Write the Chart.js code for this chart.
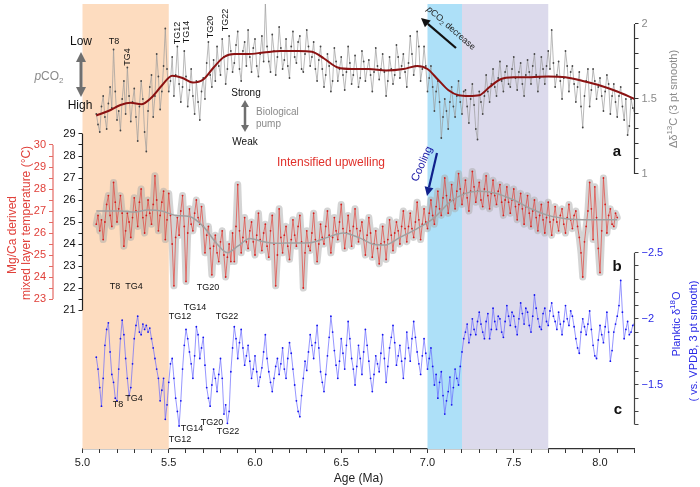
<!DOCTYPE html>
<html>
<head>
<meta charset="utf-8">
<script src="https://cdn.jsdelivr.net/npm/chart.js@4.4.1/dist/chart.umd.min.js"></script>
<style>
html, body { margin: 0; padding: 0; background: #fff; }
canvas { display: block; }
</style>
</head>
<body>
<canvas id="chart" width="700" height="487"></canvas>
<script>
// sample ages (Ma), shared by the three records
const ages = [
  5.08,5.09,5.10,5.11,5.12,5.13,5.14,5.15,5.16,5.17,
  5.18,5.19,5.20,5.21,5.22,5.23,5.24,5.25,5.26,5.27,
  5.28,5.29,5.30,5.31,5.32,5.33,5.34,5.35,5.36,5.37,
  5.38,5.39,5.40,5.41,5.42,5.43,5.44,5.45,5.46,5.47,
  5.48,5.49,5.50,5.51,5.52,5.53,5.54,5.55,5.56,5.57,
  5.58,5.59,5.60,5.61,5.62,5.63,5.64,5.65,5.66,5.67,
  5.68,5.69,5.70,5.71,5.72,5.73,5.74,5.75,5.76,5.77,
  5.78,5.79,5.80,5.81,5.82,5.83,5.84,5.85,5.86,5.87,
  5.88,5.89,5.90,5.91,5.92,5.93,5.94,5.95,5.96,5.97,
  5.98,5.99,6.00,6.01,6.02,6.03,6.04,6.05,6.06,6.07,
  6.08,6.09,6.10,6.11,6.12,6.13,6.14,6.15,6.16,6.17,
  6.18,6.19,6.20,6.21,6.22,6.23,6.24,6.25,6.26,6.27,
  6.28,6.29,6.30,6.31,6.32,6.33,6.34,6.35,6.36,6.37,
  6.38,6.39,6.40,6.41,6.42,6.43,6.44,6.45,6.46,6.47,
  6.48,6.49,6.50,6.51,6.52,6.53,6.54,6.55,6.56,6.57,
  6.58,6.59,6.60,6.61,6.62,6.63,6.64,6.65,6.66,6.67,
  6.68,6.69,6.70,6.71,6.72,6.73,6.74,6.75,6.76,6.77,
  6.78,6.79,6.80,6.81,6.82,6.83,6.84,6.85,6.86,6.87,
  6.88,6.89,6.90,6.91,6.92,6.93,6.94,6.95,6.96,6.97,
  6.98,6.99,7.00,7.01,7.02,7.03,7.04,7.05,7.06,7.07,
  7.08,7.09,7.10,7.11,7.12,7.13,7.14,7.15,7.16,7.17,
  7.18,7.19,7.20,7.21,7.22,7.23,7.24,7.25,7.26,7.27,
  7.28,7.29,7.30,7.31,7.32,7.33,7.34,7.35,7.36,7.37,
  7.38,7.39,7.40,7.41,7.42,7.43,7.44,7.45,7.46,7.47,
  7.48,7.49,7.50,7.51,7.52,7.53,7.54,7.55,7.56,7.57,
  7.58,7.59,7.60,7.61,7.62,7.63,7.64,7.65,7.66,7.67,
  7.68,7.69,7.70,7.71,7.72,7.73,7.74,7.75,7.76,7.77,
  7.78,7.79,7.80,7.81,7.82,7.83,7.84,7.85,7.86,7.87,
  7.88,7.89,7.90,7.91,7.92,7.93,7.94,7.95,7.96,7.97,
  7.98,7.99,8.00,8.01,8.02,8.03,8.04,8.05,8.06,8.07,
  8.08,8.09,8.10,8.11,8.12,8.13,8.14,8.15,8.16,8.17,
  8.18,8.19,8.20
];

// panel a: delta-delta13C (3 pt smooth)
const d13c = [
  1.40,1.33,1.28,1.45,1.52,1.38,1.30,1.47,1.58,1.44,
  1.83,1.55,1.36,1.42,1.29,1.50,1.62,1.40,1.71,1.52,
  1.35,1.48,1.57,1.38,1.22,1.45,1.62,1.50,1.28,1.15,
  1.42,1.58,1.66,1.38,1.52,1.80,1.65,1.43,1.55,1.72,
  1.97,1.70,1.55,1.62,1.78,1.52,1.66,1.85,1.60,1.48,
  1.58,1.82,1.65,1.45,1.56,1.70,1.52,1.40,1.62,1.48,
  1.36,1.55,1.64,1.50,1.74,1.88,1.66,1.58,1.76,1.62,
  1.85,1.72,1.66,1.90,1.78,1.60,1.70,1.92,1.82,1.68,
  1.74,1.86,1.95,1.70,1.62,1.82,1.88,1.72,1.96,1.78,
  1.68,1.84,1.90,1.72,1.65,1.80,1.92,1.75,2.14,1.85,
  1.75,1.68,1.93,1.82,1.66,1.78,1.98,1.84,1.70,1.76,
  1.90,1.72,1.64,1.85,1.95,1.78,1.74,1.88,1.92,1.70,
  1.68,1.80,1.96,1.85,1.72,1.78,1.88,1.70,1.62,1.76,
  1.85,1.70,1.58,1.66,1.80,1.72,1.55,1.62,1.84,1.75,
  1.62,1.70,1.78,1.66,1.56,1.68,1.85,1.74,1.60,1.66,
  1.79,1.70,1.58,1.64,1.82,1.75,1.62,1.70,1.76,1.66,
  1.55,1.68,1.84,1.72,1.63,1.70,1.80,1.68,1.52,1.62,
  1.78,1.70,1.60,1.66,1.86,1.78,1.64,1.72,1.80,1.68,
  1.58,1.74,1.92,1.80,1.66,1.72,1.95,1.85,1.62,1.70,
  1.85,1.72,1.55,1.64,1.72,1.58,1.42,1.55,1.62,1.48,
  1.24,1.38,1.50,1.42,1.30,1.48,1.58,1.45,1.38,1.52,
  1.62,1.48,1.40,1.55,1.56,1.45,1.34,1.50,1.60,1.46,
  1.30,1.23,1.55,1.48,1.40,1.52,1.66,1.55,1.48,1.60,
  1.70,1.58,1.52,1.64,1.75,1.62,1.55,1.68,1.72,1.60,
  1.58,1.70,1.78,1.64,1.56,1.68,1.74,1.60,1.52,1.66,
  1.76,1.68,1.60,1.72,1.80,1.66,1.55,1.64,1.78,1.70,
  1.60,1.72,1.82,1.70,1.96,1.74,1.58,1.66,1.75,1.62,
  1.50,1.64,1.82,1.72,1.55,1.68,1.72,1.60,1.48,1.58,
  1.68,1.45,1.31,1.52,1.62,1.70,1.45,1.56,1.70,1.62,
  1.50,1.58,1.64,1.52,1.42,1.55,1.66,1.60,1.40,1.52,
  1.60,1.48,1.38,1.52,1.58,1.45,1.36,1.50,1.26,1.32,
  1.50,1.44,1.42
];
const d13cSmoothAge = [5.08,5.15,5.22,5.28,5.34,5.40,5.46,5.52,5.58,5.64,5.70,5.76,5.82,5.88,5.96,6.05,6.15,6.25,6.33,6.40,6.48,6.56,6.66,6.76,6.86,6.94,7.00,7.06,7.12,7.18,7.24,7.30,7.36,7.42,7.50,7.60,7.70,7.80,7.90,8.00,8.10,8.20];
const d13cSmooth = [1.39,1.42,1.46,1.475,1.465,1.51,1.59,1.655,1.64,1.61,1.63,1.71,1.78,1.80,1.80,1.81,1.82,1.82,1.815,1.77,1.71,1.70,1.70,1.69,1.70,1.72,1.70,1.63,1.56,1.525,1.52,1.525,1.58,1.63,1.645,1.645,1.65,1.645,1.62,1.59,1.55,1.50];

// panel b: Mg/Ca temperature (deg C), ends at 8.10 Ma
const temp = [
  24.9,25.3,24.6,25.1,24.2,25.0,25.8,26.2,25.3,24.8,
  26.8,25.9,25.0,25.6,26.2,25.4,23.9,24.6,25.4,25.0,
  24.3,25.2,26.1,25.5,24.8,25.9,26.5,25.2,24.5,25.3,
  26.0,25.4,24.9,25.8,27.1,26.0,24.6,25.3,25.9,26.4,
  24.2,25.1,26.3,25.3,24.0,22.1,24.3,25.2,24.4,25.5,
  26.2,24.8,22.3,24.5,25.6,24.9,24.6,25.4,26.0,25.2,
  24.9,25.7,24.8,23.6,24.4,24.8,23.8,22.6,23.9,24.4,
  23.6,23.2,24.1,24.6,23.5,22.5,23.4,24.0,23.2,24.5,
  23.2,24.8,26.7,24.6,23.6,24.3,25.2,24.1,23.8,24.6,
  25.0,24.1,23.5,24.4,25.4,24.2,23.7,24.5,24.9,23.9,
  23.4,24.6,25.3,24.0,22.1,23.5,25.6,24.3,23.6,24.4,
  24.8,23.9,23.3,24.2,25.1,24.4,23.9,24.8,25.3,24.1,
  22.0,23.6,24.6,23.9,23.7,24.5,25.4,24.2,23.2,24.0,
  24.9,24.3,24.0,24.8,25.5,24.4,23.6,24.3,25.2,24.6,
  24.2,25.0,25.8,24.7,23.8,24.5,25.3,24.6,23.9,24.8,
  25.6,24.7,24.1,24.6,25.0,24.2,23.5,24.4,25.2,24.5,
  23.4,24.0,24.6,23.8,23.1,24.0,24.8,24.1,23.3,24.2,
  25.1,24.4,23.7,24.5,25.0,24.6,24.0,24.8,25.5,24.7,
  24.1,24.8,25.4,24.7,24.3,25.0,25.9,25.1,24.2,24.9,
  25.6,25.0,24.7,25.4,26.0,25.3,24.9,25.7,26.4,25.6,
  25.3,26.1,27.0,26.2,25.4,26.0,26.7,26.0,25.6,26.4,
  27.2,26.5,25.8,26.3,26.9,26.1,25.5,26.4,27.3,26.6,
  25.9,26.4,26.8,26.0,25.7,26.5,27.1,26.2,25.6,26.3,
  26.9,26.2,25.8,26.4,26.7,25.9,25.3,26.0,26.6,25.9,
  25.4,26.0,26.5,25.7,25.1,25.8,26.3,25.6,24.9,25.7,
  26.2,25.4,24.8,25.5,26.0,25.2,24.6,25.3,25.8,25.1,
  24.5,25.2,25.9,25.0,24.4,25.1,25.7,25.0,24.6,25.3,
  25.6,24.9,24.5,25.2,25.8,25.1,24.7,25.3,25.5,24.8,
  24.3,23.6,22.5,24.1,24.8,25.5,26.8,25.6,24.2,26.6,
  25.2,23.8,22.7,24.6,27.0,25.8,24.5,25.3,25.6,24.9,
  24.8,25.4,25.2
];
const tempSmoothAge = [5.08,5.15,5.22,5.30,5.38,5.46,5.54,5.62,5.70,5.78,5.84,5.90,5.97,6.05,6.13,6.22,6.32,6.42,6.51,6.60,6.68,6.75,6.84,6.94,7.04,7.13,7.22,7.30,7.40,7.50,7.60,7.70,7.80,7.90,8.00,8.10];
const tempSmooth = [25.5,25.5,25.5,25.45,25.55,25.5,25.3,25.25,24.8,24.0,23.6,23.9,24.25,24.1,24.03,24.05,24.06,24.3,24.5,24.3,24.0,23.95,24.3,24.7,25.2,25.9,26.3,26.4,26.3,26.0,25.6,25.3,25.15,25.1,25.1,25.1];

// panel c: planktic d18O (3 pt smooth)
const d18o = [
  -1.71,-1.62,-1.48,-1.34,-1.55,-1.80,-1.92,-1.97,-1.75,-1.58,
  -1.52,-1.40,-1.38,-1.62,-1.85,-1.99,-1.88,-1.70,-1.55,-1.42,
  -1.48,-1.66,-1.85,-1.95,-2.02,-1.90,-1.88,-1.96,-1.92,-1.95,
  -1.90,-1.93,-1.85,-1.78,-1.70,-1.62,-1.55,-1.38,-1.46,-1.55,
  -1.24,-1.35,-1.52,-1.66,-1.70,-1.55,-1.40,-1.30,-1.19,-1.38,
  -1.62,-1.80,-1.92,-1.85,-1.75,-1.66,-1.55,-1.72,-1.94,-1.88,
  -1.70,-1.78,-1.86,-1.65,-1.48,-1.40,-1.34,-1.50,-1.62,-1.55,
  -1.45,-1.58,-1.70,-1.55,-1.28,-1.35,-1.21,-1.30,-1.60,-1.78,
  -1.94,-1.85,-1.70,-1.82,-1.92,-1.78,-1.65,-1.72,-1.80,-1.68,
  -1.55,-1.62,-1.72,-1.60,-1.49,-1.56,-1.63,-1.75,-1.88,-1.70,
  -1.60,-1.52,-1.45,-1.55,-1.64,-1.70,-1.58,-1.66,-1.78,-1.62,
  -1.55,-1.70,-1.82,-1.74,-1.62,-1.50,-1.38,-1.30,-1.26,-1.42,
  -1.55,-1.68,-1.61,-1.75,-1.88,-1.80,-1.70,-1.82,-1.95,-1.78,
  -1.60,-1.52,-1.45,-1.58,-1.72,-1.86,-2.02,-1.90,-1.76,-1.65,
  -1.55,-1.68,-1.85,-1.74,-1.62,-1.80,-1.98,-1.85,-1.70,-1.62,
  -1.50,-1.64,-1.80,-1.70,-1.58,-1.75,-1.92,-1.80,-1.68,-1.55,
  -1.45,-1.58,-1.72,-1.66,-1.60,-1.74,-1.88,-1.70,-1.52,-1.64,
  -1.78,-1.86,-1.95,-1.82,-1.65,-1.72,-1.80,-1.68,-1.55,-1.70,
  -1.90,-1.78,-1.68,-1.85,-1.98,-1.86,-1.75,-1.66,-1.58,-1.72,
  -1.85,-1.74,-1.62,-1.70,-1.78,-1.64,-1.50,-1.58,-1.40,-1.52,
  -1.60,-1.42,-1.28,-1.38,-1.45,-1.56,-1.35,-1.48,-1.62,-1.55,
  -1.50,-1.64,-1.75,-1.85,-1.90,-1.96,-1.82,-1.88,-2.00,-1.92,
  -1.88,-1.98,-2.05,-1.96,-1.90,-1.85,-1.98,-2.04,-1.85,-1.92,
  -2.08,-1.98,-1.92,-2.02,-2.00,-1.90,-1.86,-1.98,-2.10,-2.02,
  -1.95,-2.05,-2.02,-1.94,-1.88,-2.00,-2.12,-2.04,-1.96,-2.08,
  -2.05,-1.95,-1.90,-2.02,-2.18,-2.08,-2.00,-1.94,-1.92,-2.04,
  -2.08,-1.98,-1.95,-2.06,-2.12,-2.02,-1.98,-1.92,-2.05,-1.96,
  -1.88,-1.98,-2.10,-2.00,-1.95,-2.06,-2.02,-1.94,-1.85,-1.78,
  -1.74,-1.90,-2.00,-1.94,-1.88,-1.96,-2.06,-1.92,-1.80,-1.72,
  -1.70,-1.84,-1.95,-1.88,-1.82,-1.94,-2.05,-1.90,-1.68,-1.76,
  -1.90,-1.96,-2.02,-2.10,-2.29,-2.05,-1.85,-1.92,-1.98,-1.88,
  -1.90,-1.95,-1.96
];

// shaded intervals (Ma)
const bandFrom = [5.0, 7.0, 7.2];
const bandTo = [5.5, 7.2, 7.7];

// tick labels
const xLabels = [5.0, 5.5, 6.0, 6.5, 7.0, 7.5, 8.0];
const d13cLabels = [1, 1.5, 2];
const tempLabels = [21, 22, 23, 24, 25, 26, 27, 28, 29];
const mixedLabels = [23, 24, 25, 26, 27, 28, 29, 30];
const d18oLabels = [-2.5, -2, -1.5];

const FONT = "'Liberation Sans', Arial, Helvetica, sans-serif";
Chart.defaults.font.family = FONT;
Chart.defaults.font.size = 11;

const pts = (xs, ys) => ys.map((y, i) => ({ x: xs[i], y }));
const near = (list, v) => list.some(l => Math.abs(l - v) < 1e-6);

// visible extent of each y axis line
const axisSpan = {
  yC: [1, 2, '#333'],
  yO: [-2.5, -1.2, '#444'],
  yT: [21, 29, '#222'],
  yR: [23, 30, '#e46a64']
};

function sideAxis(id, pos, weight, width, min, max, step, labels, fmt, color, reverse) {
  const [lo, hi, line] = axisSpan[id];
  return {
    type: 'linear', position: pos, weight, min, max, reverse: !!reverse,
    afterFit: s => { s.width = width; s.paddingTop = 0; s.paddingBottom = 0; },
    border: { display: false },
    grid: {
      drawOnChartArea: false, drawTicks: true, tickLength: 4, lineWidth: 1,
      color: c => (c.tick && c.tick.value >= lo - 1e-6 && c.tick.value <= hi + 1e-6) ? line : 'rgba(0,0,0,0)'
    },
    ticks: {
      stepSize: step, autoSkip: false, padding: 3, color, font: { size: 11 },
      callback: v => near(labels, v) ? fmt(v) : ''
    }
  };
}

const shading = {
  id: 'shading',
  afterLayout(chart) {
    // the d18O axis shares the right edge with the d13C axis
    const c = chart.scales.yC, o = chart.scales.yO;
    o.left = c.left; o.right = c.right; o.width = c.width;
  },
  beforeDraw(chart) {
    const { ctx } = chart;
    ctx.save();
    ctx.fillStyle = '#fff';
    ctx.fillRect(0, 0, chart.width, chart.height);
    ctx.restore();
  },
  beforeDatasetsDraw(chart) {
    const { ctx, chartArea: a, scales: { x } } = chart;
    const cols = ['#fddcbf', '#ade0f8', '#dcdaec'];
    ctx.save();
    bandFrom.forEach((f, i) => {
      const x1 = x.getPixelForValue(f), x2 = x.getPixelForValue(bandTo[i]);
      ctx.fillStyle = cols[i];
      ctx.fillRect(x1, a.top, x2 - x1, a.bottom - a.top);
    });
    ctx.restore();
  }
};

function rich(ctx, parts, x, y, angle, size, color, align) {
  ctx.save();
  ctx.translate(x, y);
  ctx.rotate(angle || 0);
  ctx.fillStyle = color;
  ctx.textBaseline = 'middle';
  ctx.textAlign = 'left';
  const font = p => `${p.b ? 'bold ' : ''}${p.i ? 'italic ' : ''}${p.s ? Math.round(size * 0.7) : size}px ${FONT}`;
  let w = 0;
  parts.forEach(p => { ctx.font = font(p); w += ctx.measureText(p.t).width; });
  let cx = align === 'left' ? 0 : -w / 2;
  parts.forEach(p => {
    ctx.font = font(p);
    const dy = p.s === 'sup' ? -size * 0.35 : p.s === 'sub' ? size * 0.3 : 0;
    ctx.fillText(p.t, cx, dy);
    cx += ctx.measureText(p.t).width;
  });
  ctx.restore();
}

function arrow(ctx, x1, y1, x2, y2, color, lw, head, hw) {
  const a = Math.atan2(y2 - y1, x2 - x1);
  const bx = x2 - head * Math.cos(a), by = y2 - head * Math.sin(a);
  ctx.save();
  ctx.strokeStyle = color; ctx.fillStyle = color; ctx.lineWidth = lw;
  ctx.beginPath(); ctx.moveTo(x1, y1); ctx.lineTo(bx, by); ctx.stroke();
  ctx.beginPath();
  ctx.moveTo(x2, y2);
  ctx.lineTo(bx + hw * Math.sin(a), by - hw * Math.cos(a));
  ctx.lineTo(bx - hw * Math.sin(a), by + hw * Math.cos(a));
  ctx.closePath(); ctx.fill();
  ctx.restore();
}

const T = (t, o) => Object.assign({ t }, o || {});
const UP = -Math.PI / 2;

const decorations = {
  id: 'decorations',
  afterDraw(chart) {
    const { ctx, scales } = chart;
    // axis lines, only over their labelled span
    Object.keys(axisSpan).forEach(id => {
      const s = scales[id];
      const [lo, hi, col] = axisSpan[id];
      const x = s.position === 'left' ? s.right : s.left;
      ctx.save();
      ctx.strokeStyle = col; ctx.lineWidth = 1.2;
      ctx.beginPath();
      ctx.moveTo(x, s.getPixelForValue(lo));
      ctx.lineTo(x, s.getPixelForValue(hi));
      ctx.stroke();
      ctx.restore();
    });

    // axis titles
    rich(ctx, [T('Δδ'), T('13', { s: 'sup' }), T('C (3 pt smooth)')], 674, 99, UP, 11, '#8a8a8a');
    rich(ctx, [T('Planktic δ'), T('18', { s: 'sup' }), T('O')], 677, 324, UP, 11, '#2a2ae6');
    rich(ctx, [T('( vs. VPDB, 3 pt smooth)')], 694, 341, UP, 11, '#2a2ae6');
    rich(ctx, [T('Mg/Ca derived')], 13, 235, UP, 12, '#e0403a');
    rich(ctx, [T('mixed layer temperature (°C)')], 27, 223, UP, 12, '#e0403a');

    // pCO2 scale arrow
    arrow(ctx, 81, 75, 81, 52, '#6f6f6f', 3, 10, 5);
    arrow(ctx, 81, 75, 81, 97, '#6f6f6f', 3, 10, 5);
    rich(ctx, [T('Low')], 81, 42, 0, 12, '#111');
    rich(ctx, [T('High')], 80, 106, 0, 12, '#111');
    rich(ctx, [T('p', { i: true }), T('CO'), T('2', { s: 'sub' })], 49, 77, 0, 12, '#8a8a8a');

    // glacial stage labels, panel a
    rich(ctx, [T('T8')], 114, 42, 0, 9, '#111');
    rich(ctx, [T('TG4')], 128, 57, UP, 9, '#111');
    rich(ctx, [T('TG12')], 178, 33, UP, 9, '#111');
    rich(ctx, [T('TG14')], 187, 32, UP, 9, '#111');
    rich(ctx, [T('TG20')], 211, 27, UP, 9, '#111');
    rich(ctx, [T('TG22')], 226, 20, UP, 9, '#111');

    // biological pump
    rich(ctx, [T('Strong')], 246, 93, 0, 10, '#111');
    rich(ctx, [T('Weak')], 245, 142, 0, 10, '#111');
    arrow(ctx, 245, 116, 245, 100, '#6f6f6f', 2.5, 7, 4);
    arrow(ctx, 245, 116, 245, 132, '#6f6f6f', 2.5, 7, 4);
    rich(ctx, [T('Biological')], 256, 112, 0, 10, '#8a8a8a', 'left');
    rich(ctx, [T('pump')], 256, 124, 0, 10, '#8a8a8a', 'left');

    // pCO2 decrease
    arrow(ctx, 456, 48, 421, 18, '#111', 2.2, 9, 4.5);
    rich(ctx, [T('p', { i: true }), T('CO'), T('2', { s: 'sub' }), T(' decrease')], 428, 8, 0.72, 9, '#222', 'left');

    // panel b annotations
    rich(ctx, [T('Intensified upwelling')], 331, 163, 0, 12, '#e0302a');
    arrow(ctx, 437, 153, 427, 196, '#10208c', 2.2, 9, 4.5);
    rich(ctx, [T('Cooling')], 422, 164, -1.15, 11, '#1a1aa6');

    rich(ctx, [T('T8')], 115, 287, 0, 9, '#111');
    rich(ctx, [T('TG4')], 134, 287, 0, 9, '#111');
    rich(ctx, [T('TG20')], 208, 288, 0, 9, '#111');
    rich(ctx, [T('TG14')], 195, 308, 0, 9, '#111');
    rich(ctx, [T('TG12')], 180, 317, 0, 9, '#111');
    rich(ctx, [T('TG22')], 227, 317, 0, 9, '#111');

    // panel c annotations
    rich(ctx, [T('T8')], 118, 405, 0, 9, '#111');
    rich(ctx, [T('TG4')], 134, 399, 0, 9, '#111');
    rich(ctx, [T('TG20')], 212, 423, 0, 9, '#111');
    rich(ctx, [T('TG14')], 192, 429, 0, 9, '#111');
    rich(ctx, [T('TG12')], 180, 440, 0, 9, '#111');
    rich(ctx, [T('TG22')], 228, 432, 0, 9, '#111');

    // panel letters
    rich(ctx, [T('a', { b: true })], 617, 152, 0, 15, '#111');
    rich(ctx, [T('b', { b: true })], 617, 267, 0, 15, '#111');
    rich(ctx, [T('c', { b: true })], 618, 410, 0, 15, '#111');
  }
};

new Chart(document.getElementById('chart'), {
  type: 'line',
  data: {
    datasets: [
      { data: pts(d13cSmoothAge, d13cSmooth), yAxisID: 'yC', borderColor: '#8b1212', borderWidth: 2,
        pointRadius: 0, cubicInterpolationMode: 'monotone', order: 0 },
      { data: pts(ages, d13c), yAxisID: 'yC', borderColor: '#9b9b9b', borderWidth: 0.7,
        pointRadius: 0.9, pointBackgroundColor: '#444', pointBorderWidth: 0, order: 1 },
      { data: pts(tempSmoothAge, tempSmooth), yAxisID: 'yT', borderColor: '#a0a0a0', borderWidth: 1.5,
        pointRadius: 0, cubicInterpolationMode: 'monotone', order: 0 },
      { data: pts(ages, temp), yAxisID: 'yT', borderColor: '#e3443c', borderWidth: 0.7,
        pointRadius: 0.9, pointBackgroundColor: '#d41e1e', pointBorderWidth: 0, order: 1 },
      { data: pts(ages, temp), yAxisID: 'yT', borderColor: 'rgba(170,170,170,0.5)', borderWidth: 7,
        borderJoinStyle: 'round', borderCapStyle: 'round', pointRadius: 0, order: 3 },
      { data: pts(ages, d18o), yAxisID: 'yO', borderColor: '#6868ff', borderWidth: 0.7,
        pointRadius: 0.9, pointBackgroundColor: '#1414ee', pointBorderWidth: 0, order: 1 }
    ]
  },
  options: {
    responsive: false,
    devicePixelRatio: 1,
    animation: false,
    layout: { padding: { top: 4, left: 0, right: 0, bottom: 0 } },
    plugins: { legend: { display: false }, tooltip: { enabled: false } },
    scales: {
      x: {
        type: 'linear', min: 5, max: 8.2,
        afterFit: s => { s.height = 38; s.paddingLeft = 0; s.paddingRight = 0; },
        border: { color: '#333', width: 1.2 },
        grid: { drawOnChartArea: false, tickLength: 4, color: '#333' },
        ticks: {
          stepSize: 0.1, autoSkip: false, maxRotation: 0, padding: 3, color: '#222', font: { size: 11 },
          callback: v => near(xLabels, v) ? v.toFixed(1) : ''
        },
        title: { display: true, text: 'Age (Ma)', color: '#222', font: { size: 12 }, padding: { top: 0, bottom: 1 } }
      },
      yT: sideAxis('yT', 'left', 1, 29.5, 14.682, 34.909, 0.5, tempLabels, v => String(v), '#111'),
      yR: sideAxis('yR', 'left', 2, 53, 16.182, 36.409, 0.5, mixedLabels, v => String(v), '#e0403a'),
      yC: sideAxis('yC', 'right', 1, 65.5, -0.8333, 2.1333, 0.1, d13cLabels, v => String(v), '#8a8a8a'),
      yO: sideAxis('yO', 'right', 2, 0, -4.38, -1.016, 0.1, d18oLabels, v => String(v).replace('-', '\u2212'), '#2a2ae6', true)
    }
  },
  plugins: [shading, decorations]
});
</script>
</body>
</html>
